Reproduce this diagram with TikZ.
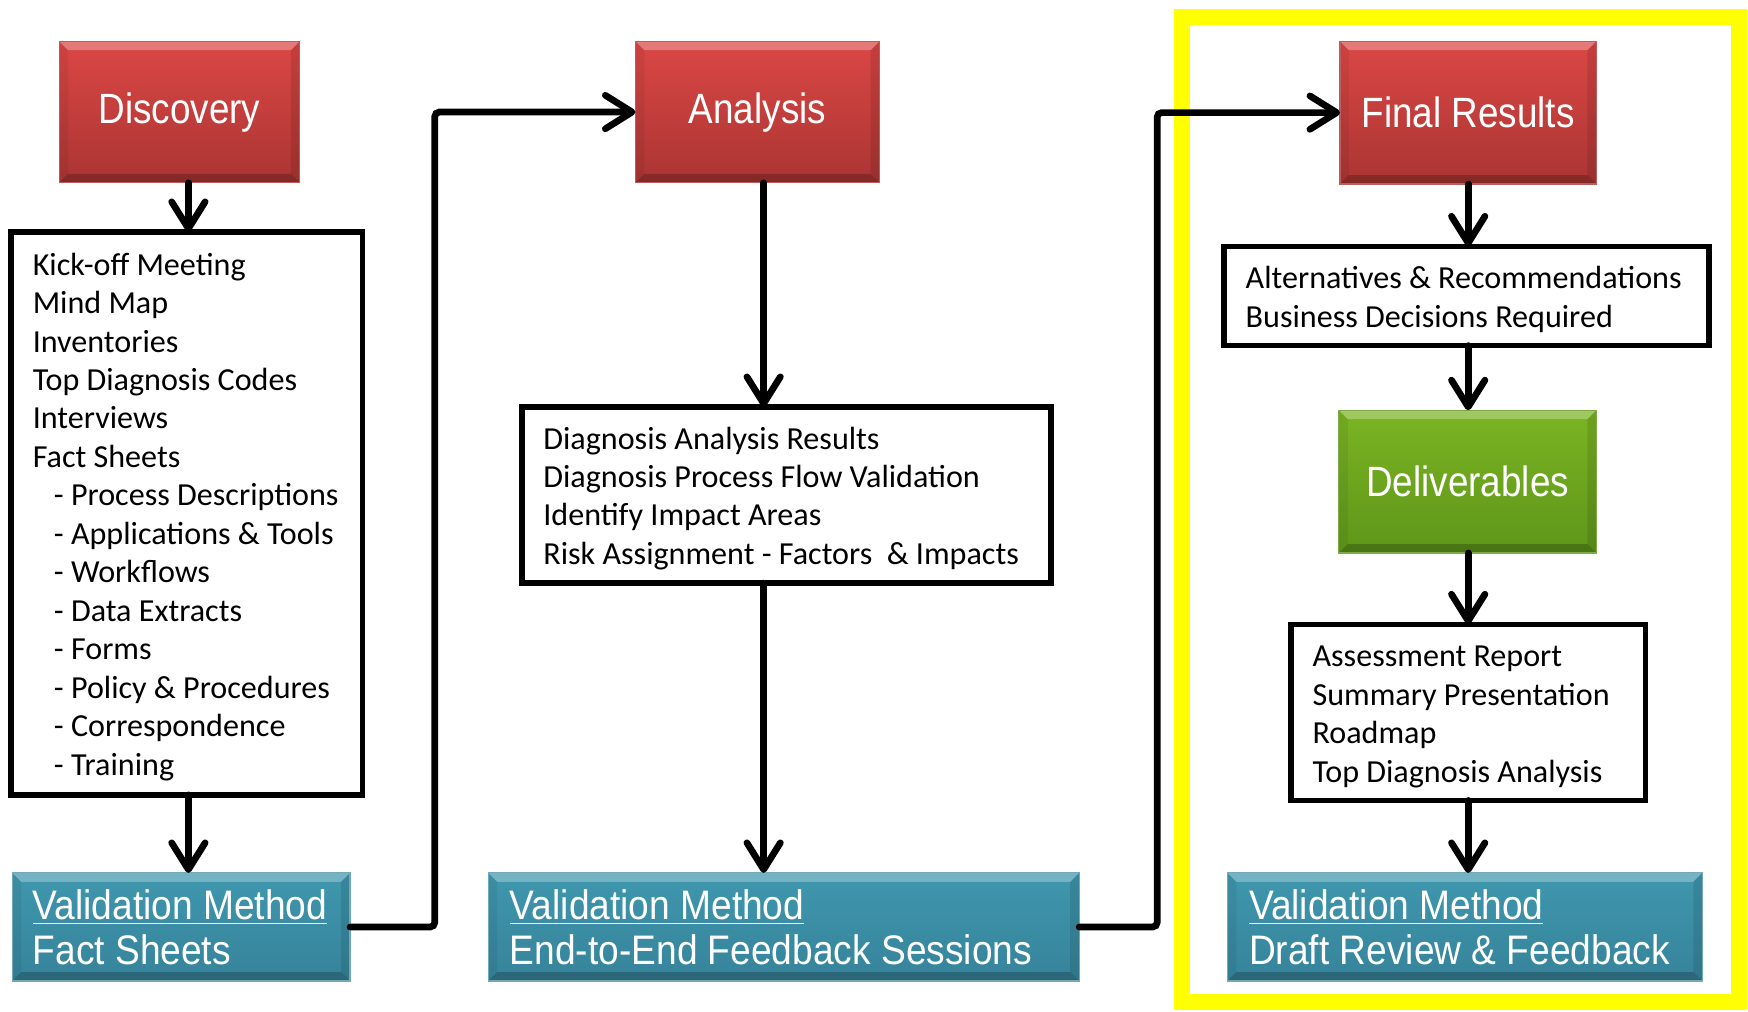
\documentclass[tikz,border=0pt]{standalone}
\usepackage{fontspec}
\setmainfont{Carlito}
\newfontfamily\hdrfont[FakeStretch=0.9]{Liberation Sans}
\newfontfamily\hdrfontb[FakeStretch=0.87]{Liberation Sans}
\usetikzlibrary{arrows.meta}
\definecolor{redtop}{HTML}{DB4745}
\definecolor{redbot}{HTML}{AA3533}
\definecolor{tealtop}{HTML}{3F97AE}
\definecolor{tealbot}{HTML}{36839A}
\definecolor{greentop}{HTML}{7BB423}
\definecolor{greenbot}{HTML}{5E961A}
\definecolor{ylw}{HTML}{FFFF00}
\tikzset{
  bevel/.style={path picture={
    \fill[white,opacity=.28] (path picture bounding box.north west) -- (path picture bounding box.north east) -- ([xshift=-4pt,yshift=-4pt]path picture bounding box.north east) -- ([xshift=4pt,yshift=-4pt]path picture bounding box.north west) -- cycle;
    \fill[black,opacity=.22] (path picture bounding box.south west) -- (path picture bounding box.south east) -- ([xshift=-4pt,yshift=4pt]path picture bounding box.south east) -- ([xshift=4pt,yshift=4pt]path picture bounding box.south west) -- cycle;
    \fill[black,opacity=.10] (path picture bounding box.north east) -- (path picture bounding box.south east) -- ([xshift=-4pt,yshift=4pt]path picture bounding box.south east) -- ([xshift=-4pt,yshift=-4pt]path picture bounding box.north east) -- cycle;
    \fill[black,opacity=.06] (path picture bounding box.north west) -- (path picture bounding box.south west) -- ([xshift=4pt,yshift=4pt]path picture bounding box.south west) -- ([xshift=4pt,yshift=-4pt]path picture bounding box.north west) -- cycle;
  }},
  hdr/.style={bevel, top color=redtop, bottom color=redbot, draw=redbot!80!white, line width=0.5pt,
    inner sep=0pt, outer sep=0pt, text=white, font=\hdrfontb\fontsize{19}{22}\selectfont},
  grn/.style={hdr, top color=greentop, bottom color=greenbot, draw=greenbot!80!white},
  valbox/.style={bevel, top color=tealtop, bottom color=tealbot, draw=tealbot!70!white, line width=0.5pt,
    inner sep=0pt, outer sep=0pt},
  valtext/.style={anchor=west, inner sep=0pt, text=white, align=left, font=\hdrfont\fontsize{18.5}{20}\selectfont},
  listbox/.style={draw=black, line width=2.5pt, fill=white, inner sep=0pt, outer sep=0pt},
  listtext/.style={anchor=west, inner sep=0pt, align=left, font=\fontsize{14.4}{17.25}\selectfont},
  arr/.style={line width=3pt, line cap=round, -{Straight Barb[length=12pt,width=15pt,line cap=round,line join=round]}},
  conn/.style={arr, rounded corners=2pt},
}
\newcommand{\sub}{\hspace*{9.5pt}- }
\begin{document}
\begin{tikzpicture}[x=0.5pt,y=-0.5pt]
\useasboundingbox (0,0) rectangle (1568,907);
\fill[white] (0,0) rectangle (1568,907);
% yellow frame
\draw[ylw, line width=7pt] (1060,15) rectangle (1560,899);

% header boxes
\node[hdr, minimum width=108pt, minimum height=63.5pt] (disc) at (161,100.5) {Discovery};
\node[hdr, minimum width=109.5pt, minimum height=63.5pt] (an) at (679.5,100.5) {Analysis};
\node[hdr, minimum width=115pt, minimum height=64pt] (fr) at (1317,101) {Final Results};
\node[grn, minimum width=115.5pt, minimum height=64pt] (del) at (1316.5,432) {Deliverables};

% list boxes
\node[listbox, minimum width=157.5pt, minimum height=252.5pt] (l1) at (167.5,460.5) {};
\node[listtext] (l1t) at ([xshift=9.5pt,yshift=-1.5pt]l1.west) {Kick-off Meeting\\Mind Map\\Inventories\\Top Diagnosis Codes\\Interviews\\Fact Sheets\\\sub Process Descriptions\\\sub Applications \& Tools\\\sub Workflows\\\sub Data Extracts\\\sub Forms\\\sub Policy \& Procedures\\\sub Correspondence\\\sub Training};
\node[listbox, minimum width=237.5pt, minimum height=79pt] (l2) at (705.5,444) {};
\node[listtext] (l2t) at ([xshift=9.5pt,yshift=-1.5pt]l2.west) {Diagnosis Analysis Results\\Diagnosis Process Flow Validation\\Identify Impact Areas\\Risk Assignment - Factors ~\& Impacts};
\node[listbox, minimum width=217.5pt, minimum height=44.5pt] (l3) at (1315.5,265.5) {};
\node[listtext] (l3t) at ([xshift=9.5pt,yshift=-1.5pt]l3.west) {Alternatives \& Recommendations\\Business Decisions Required};
\node[listbox, minimum width=159pt, minimum height=79pt] (l4) at (1317,639) {};
\node[listtext] (l4t) at ([xshift=9.5pt,yshift=-2pt]l4.west) {Assessment Report\\Summary Presentation\\Roadmap\\Top Diagnosis Analysis};

% validation boxes
\node[valbox, minimum width=151.5pt, minimum height=48.5pt] (v1) at (162.5,831.5) {};
\node[valtext] (v1t) at ([xshift=9pt]v1.west) {\underline{Validation Method}\\Fact Sheets};
\node[valbox, minimum width=265pt, minimum height=48.5pt] (v2) at (703,831.5) {};
\node[valtext] (v2t) at ([xshift=9.5pt]v2.west) {\underline{Validation Method}\\End-to-End Feedback Sessions};
\node[valbox, minimum width=213pt, minimum height=48.5pt] (v3) at (1314,831.5) {};
\node[valtext] (v3t) at ([xshift=9.5pt]v3.west) {\underline{Validation Method}\\Draft Review \& Feedback};

% column arrows
\coordinate (c1) at (169,0);
\coordinate (c2) at (685,0);
\draw[arr] (c1 |- disc.south) -- (c1 |- l1.north);
\draw[arr] (c1 |- l1.south) -- (c1 |- v1.north);
\draw[arr] (c2 |- an.south) -- (c2 |- l2.north);
\draw[arr] (c2 |- l2.south) -- (c2 |- v2.north);
\draw[arr] (fr.south) -- (fr.south |- l3.north);
\draw[arr] (fr.south |- l3.south) -- (fr.south |- del.north);
\draw[arr] (fr.south |- del.south) -- (fr.south |- l4.north);
\draw[arr] (fr.south |- l4.south) -- (fr.south |- v3.north);

% connectors between stages
\draw[conn] (v1.east) -- ++(38pt,0) |- (an.west);
\draw[conn] (v2.east) -- ++(35pt,0) |- (fr.west);
\end{tikzpicture}
\end{document}
